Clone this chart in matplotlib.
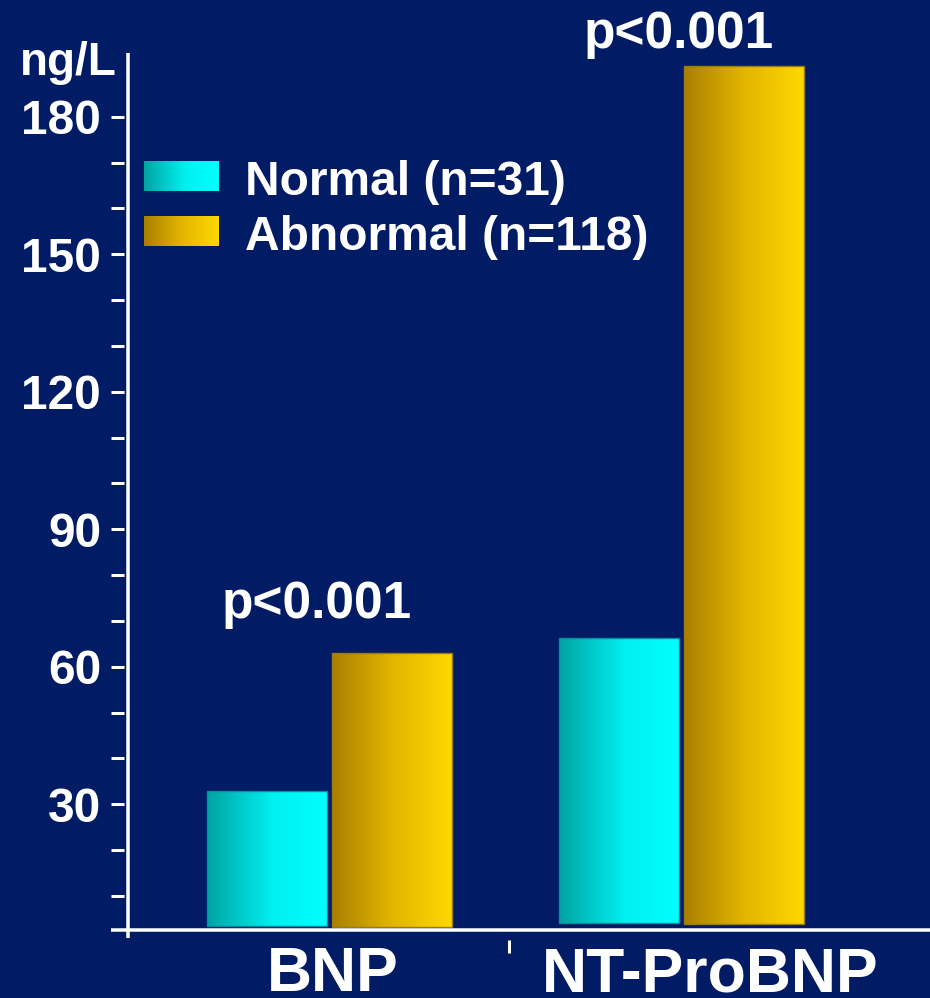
import numpy as np
import matplotlib
matplotlib.use('Agg')
import matplotlib.pyplot as plt
import matplotlib.transforms as mtransforms
from matplotlib.colors import LinearSegmentedColormap

# ---------------- data ----------------
categories = ['BNP', 'NT-ProBNP']
series_names = ['Normal (n=31)', 'Abnormal (n=118)']
normal_values = [33.0, 66.2]
abnormal_values = [63.0, 191.0]
normal_base = [3.5, 4.2]
abnormal_base = [3.3, 3.9]
p_labels = ['p<0.001', 'p<0.001']
p_y = [70.6, 195.0]
y_major = [30, 60, 90, 120, 150, 180]
y_minor = [10, 20, 40, 50, 70, 80, 100, 110, 130, 140, 160, 170]
y_unit = 'ng/L'

# ---------------- style ----------------
BG = '#011B64'
FONT = 'Liberation Sans'
W, H = 930, 998
DPI = 100
px = 72.0 / DPI  # points per pixel

cmap_normal = LinearSegmentedColormap.from_list(
    'normal', [(0, '#00A3A3'), (0.55, '#00F0F0'), (1, '#00FFFF')])
cmap_abn = LinearSegmentedColormap.from_list(
    'abn', [(0, '#A88000'), (0.5, '#E3B500'), (1, '#FFD800')])

plt.rcParams['font.family'] = [FONT, 'DejaVu Sans']
plt.rcParams['font.weight'] = 'bold'

fig = plt.figure(figsize=(W / DPI, H / DPI), dpi=DPI, facecolor=BG)
ax_left, ax_right, ax_top, ax_bot = 111, 930, 53, 930
ax = fig.add_axes([ax_left / W, 1 - ax_bot / H, (ax_right - ax_left) / W, (ax_bot - ax_top) / H])
ax.set_facecolor(BG)

XLIM = (-0.618, 1.703)
YLIM = (2.57, 193.9)

bar_w = 0.34
off = 0.177
x = np.arange(len(categories))

grad = np.linspace(0, 1, 256).reshape(1, -1)


def gradient_bars(xs, heights, bases, cmap, edge):
    bars = ax.bar(xs, np.array(heights) - np.array(bases), bottom=bases, width=bar_w,
                  facecolor='none', edgecolor=edge, linewidth=1.0, zorder=3)
    for b in bars:
        x0, y0 = b.get_x(), b.get_y()
        im = ax.imshow(grad, cmap=cmap, aspect='auto', interpolation='bicubic',
                       extent=[x0, x0 + b.get_width(), y0, y0 + b.get_height()], zorder=2)
        im.set_clip_path(b)
    return bars


gradient_bars(x - off, normal_values, normal_base, cmap_normal, '#0A8C9A')
gradient_bars(x + off, abnormal_values, abnormal_base, cmap_abn, '#9C7A10')

ax.set_xlim(*XLIM)
ax.set_ylim(*YLIM)

for s in ax.spines.values():
    s.set_visible(False)
ax.spines['bottom'].set_position(('outward', 7))

# y ticks (detached marks, left of axis line)
ax.set_yticks(y_major)
ax.set_yticks(y_minor, minor=True)
ax.tick_params(axis='y', which='both', direction='in', length=13 * px, width=3 * px,
               color='white', left=True, right=False)
ax.tick_params(axis='y', which='major', labelsize=34.5, labelcolor='white', pad=10 * px)
for lab in ax.get_yticklabels():
    lab.set_fontweight('bold')

# x: single separator tick between categories
ax.set_xticks([0.51])
ax.set_xticklabels([''])
ax.tick_params(axis='x', which='major', direction='out', length=13 * px, width=3 * px,
               color='white')

# axis lines
ax_h = ax_bot - ax_top
x_axis_line = -0.569
trans_v = mtransforms.blended_transform_factory(ax.transData, ax.transAxes)
ax.plot([x_axis_line, x_axis_line], [1.0, -(938 - ax_bot) / ax_h], transform=trans_v,
        color='white', lw=3.5 * px, clip_on=False, zorder=5, solid_capstyle='butt')
ax.plot([0, 1], [0, 0], transform=ax.transAxes, color='white', lw=3.5 * px,
        clip_on=False, zorder=5, solid_capstyle='butt')

# category labels
cat_offsets = [0.011, 0.08]
for i, c in enumerate(categories):
    ax.annotate(c, xy=(x[i] + cat_offsets[i], 0), xycoords=trans_v,
                xytext=(0, -61 * px), textcoords='offset points',
                ha='center', va='baseline', fontsize=45, fontweight='bold', color='white')

# p-value labels
p_offsets = [-0.035, -0.01]
for i, p in enumerate(p_labels):
    ax.text(x[i] + p_offsets[i], p_y[i], p, ha='center', va='baseline', fontsize=37,
            fontweight='bold', color='white', clip_on=False)

# unit label
fig.text(117 / W, 1 - 75 / H, y_unit, ha='right', va='baseline', fontsize=33,
         fontweight='bold', color='white')

# legend (manual, gradient swatches)
leg_items = [(series_names[0], cmap_normal, 161, 191, 195),
             (series_names[1], cmap_abn, 216, 246, 250)]
for name, cmap, top, bot, base in leg_items:
    lax = fig.add_axes([144 / W, 1 - bot / H, 74 / W, (bot - top) / H])
    lax.imshow(grad, cmap=cmap, aspect='auto', interpolation='bicubic')
    lax.axis('off')
    fig.text(245 / W, 1 - base / H, name, ha='left', va='baseline', fontsize=34.5,
             fontweight='bold', color='white')

fig.savefig('out.png', dpi=DPI, facecolor=BG)
